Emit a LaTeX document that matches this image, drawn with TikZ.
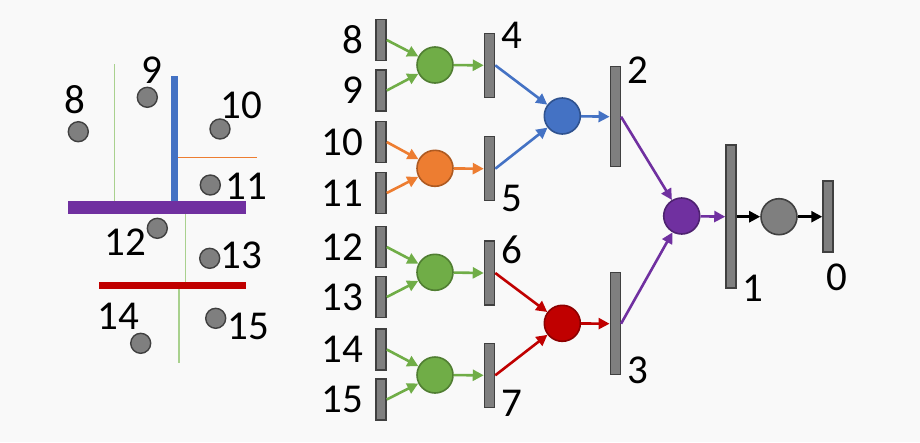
\documentclass[tikz,border=0pt]{standalone}
\usepackage{fontspec}
\setmainfont{Carlito}
\usetikzlibrary{arrows.meta}
\definecolor{cgreen}{HTML}{70AD47}
\definecolor{cgreenD}{HTML}{507E32}
\definecolor{corange}{HTML}{ED7D31}
\definecolor{corangeD}{HTML}{AE5A21}
\definecolor{cblue}{HTML}{4472C4}
\definecolor{cblueD}{HTML}{2F528F}
\definecolor{cred}{HTML}{C00000}
\definecolor{credD}{HTML}{8C0000}
\definecolor{cpurple}{HTML}{7030A0}
\definecolor{cpurpleD}{HTML}{4E2270}
\definecolor{cgray}{HTML}{7F7F7F}
\definecolor{cgrayD}{HTML}{404040}
\definecolor{cbg}{HTML}{F9F9F9}
\definecolor{lgreen}{HTML}{A9D18E}
\begin{document}
\begin{tikzpicture}[x=1pt,y=-1pt,
  bar/.style={draw=cgrayD,fill=cgray,line width=1.5pt,minimum width=10pt,inner sep=0pt,rectangle},
  place/.style={circle,draw=#1D,fill=#1,line width=1.6pt,minimum size=36pt,inner sep=0pt},
  dot/.style={circle,draw=cgrayD,fill=cgray,line width=1.4pt,minimum size=20pt,inner sep=0pt},
  lbl/.style={font=\fontsize{41}{42}\selectfont,inner sep=0pt},
  arr/.style={draw=#1,line width=2.6pt,-{Triangle[length=11pt,width=11pt]}},
]
\fill[cbg] (0,0) rectangle (920,442);
\useasboundingbox (0,0) rectangle (920,442);

% ---------- left panel ----------
\draw[lgreen,line width=1.5pt] (114.3,64) -- (114.3,201);
\draw[corange,line width=1.3pt] (174.3,157.3) -- (257.3,157.3);
\draw[cblue,line width=6.7pt] (174.3,76) -- (174.3,201);
\draw[lgreen,line width=1.5pt] (185.7,214) -- (185.7,282);
\draw[lgreen,line width=1.5pt] (179,288) -- (179,362.7);
\draw[cpurple,line width=13pt] (68.3,207.5) -- (245.7,207.5);
\draw[cred,line width=7pt] (99.3,285) -- (245.7,285);

\node[dot] (d8) at (78.3,131.7) {};
\node[dot] (d9) at (147.3,97.3) {};
\node[dot] (d10) at (220,129) {};
\node[dot] (d11) at (210.3,185) {};
\node[dot] (d12) at (157.3,228.3) {};
\node[dot] (d13) at (209.7,258.3) {};
\node[dot] (d14) at (140.7,343.3) {};
\node[dot] (d15) at (215.7,318.3) {};
\node[lbl] (ld8) at (75,100) {8};
\node[lbl] (ld9) at (152.3,70) {9};
\node[lbl] (ld10) at (241.7,105) {10};
\node[lbl] (ld11) at (246.7,186.7) {11};
\node[lbl] (ld12) at (125,241.7) {12};
\node[lbl] (ld13) at (241.7,255) {13};
\node[lbl] (ld14) at (118.3,316.7) {14};
\node[lbl] (ld15) at (248.3,326.7) {15};

% ---------- tree ----------
\node[bar,minimum height=41pt] (b8) at (381,40) {};
\node[bar,minimum height=41pt] (b9) at (381,90.5) {};
\node[bar,minimum height=41pt] (b10) at (381,142) {};
\node[bar,minimum height=41pt] (b11) at (381,193) {};
\node[bar,minimum height=41pt] (b12) at (381,247) {};
\node[bar,minimum height=41pt] (b13) at (381,297) {};
\node[bar,minimum height=41pt] (b14) at (381,349.5) {};
\node[bar,minimum height=41pt] (b15) at (381,399.5) {};
\foreach \n/\y in {8/40,9/90.5,10/142,11/193,12/247,13/297,14/349.5,15/399.5}
  \node[lbl,anchor=east] (l\n) at (363,\y) {\n};

\node[bar,minimum height=64pt] (b4) at (489.5,65.3) {};
\node[bar,minimum height=64pt] (b5) at (489.5,168.7) {};
\node[bar,minimum height=64pt] (b6) at (489.5,273) {};
\node[bar,minimum height=64pt] (b7) at (489.5,375.3) {};
\node[lbl] (l4) at (511.7,35) {4};
\node[lbl] (l5) at (511.7,198) {5};
\node[lbl] (l6) at (511.7,250) {6};
\node[lbl] (l7) at (511.7,403) {7};

\node[bar,minimum height=100pt] (b2) at (615.3,116.7) {};
\node[bar,minimum height=102pt] (b3) at (615.3,323.7) {};
\node[lbl] (l2) at (638.3,70) {2};
\node[lbl] (l3) at (638.3,370) {3};

\node[bar,minimum height=143pt] (b1) at (731,216.7) {};
\node[bar,minimum height=71pt] (b0) at (828,216.7) {};
\node[lbl] (l1) at (753.3,288) {1};
\node[lbl] (l0) at (836.7,277) {0};

\node[place=cgreen] (g1) at (435,65) {};
\node[place=corange] (o1) at (435,168.3) {};
\node[place=cgreen] (g2) at (435,272.3) {};
\node[place=cgreen] (g3) at (435,375) {};
\node[place=cblue] (cb) at (562.3,116) {};
\node[place=cred] (cr) at (562.3,323.3) {};
\node[place=cpurple] (cp) at (681.7,216) {};
\node[place=cgray] (cg) at (779,216.7) {};

\draw[arr=cgreen] (b8.east) -- (g1);
\draw[arr=cgreen] (b9.east) -- (g1);
\draw[arr=cgreen] (g1) -- (b4.west);
\draw[arr=corange] (b10.east) -- (o1);
\draw[arr=corange] (b11.east) -- (o1);
\draw[arr=corange] (o1) -- (b5.west);
\draw[arr=cgreen] (b12.east) -- (g2);
\draw[arr=cgreen] (b13.east) -- (g2);
\draw[arr=cgreen] (g2) -- (b6.west);
\draw[arr=cgreen] (b14.east) -- (g3);
\draw[arr=cgreen] (b15.east) -- (g3);
\draw[arr=cgreen] (g3) -- (b7.west);

\draw[arr=cblue] (b4.east) -- (cb);
\draw[arr=cblue] (b5.east) -- (cb);
\draw[arr=cblue] (cb) -- (b2.west);
\draw[arr=cred] (b6.east) -- (cr);
\draw[arr=cred] (b7.east) -- (cr);
\draw[arr=cred] (cr) -- (b3.west);

\draw[arr=cpurple] (b2.east) -- (cp);
\draw[arr=cpurple] (b3.east) -- (cp);
\draw[arr=cpurple] (cp) -- (b1.west);
\draw[arr=black] (b1.east) -- (cg);
\draw[arr=black] (cg) -- (b0.west);
\end{tikzpicture}
\end{document}
